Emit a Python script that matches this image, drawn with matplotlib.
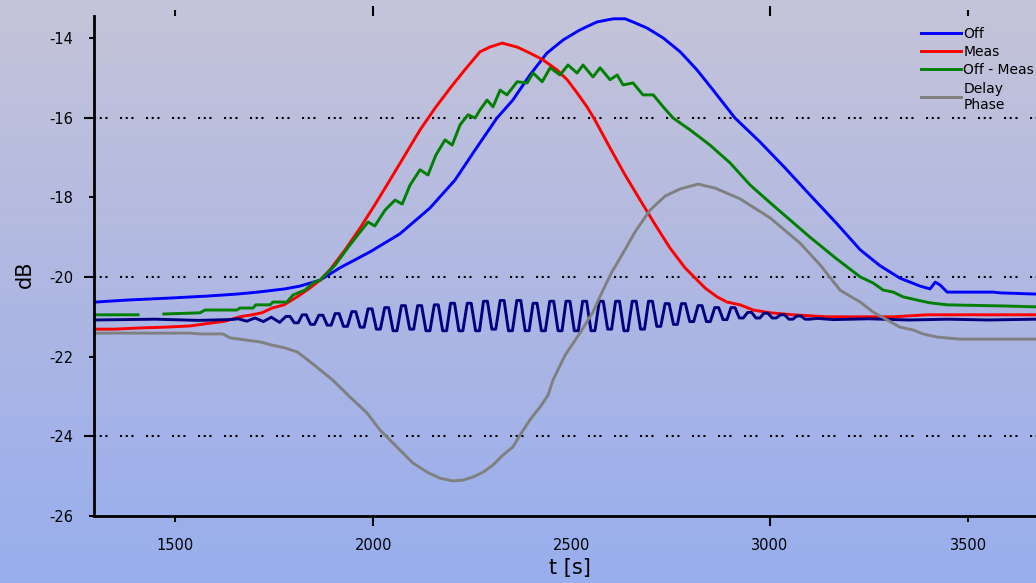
import numpy as np
import matplotlib
matplotlib.use("Agg")
import matplotlib.pyplot as plt
from matplotlib.colors import LinearSegmentedColormap

plt.rcParams['font.family'] = ['DejaVu Sans']
plt.rcParams['axes.unicode_minus'] = False

# measured traces, time in s, level in dB
blue_t = [1300, 1379, 1487, 1581, 1656, 1709, 1777, 1815, 1866, 1916,
          1992, 2067, 2143, 2206, 2257, 2312, 2352, 2395, 2438, 2479,
          2521, 2564, 2605, 2635, 2655, 2690, 2731, 2774, 2816, 2857,
          2912, 2975, 3038, 3101, 3165, 3228, 3278, 3328, 3379, 3404,
          3417, 3429, 3447, 3563, 3581, 3671]
blue_db = [-20.63, -20.58, -20.53, -20.48, -20.43, -20.38, -20.30, -20.23, -20.08, -19.77,
           -19.37, -18.92, -18.27, -17.57, -16.81, -16.01, -15.56, -14.93, -14.38, -14.05,
           -13.80, -13.60, -13.52, -13.52, -13.60, -13.75, -14.00, -14.35, -14.80, -15.31,
           -16.01, -16.61, -17.26, -17.94, -18.62, -19.32, -19.72, -20.03, -20.23, -20.30,
           -20.13, -20.20, -20.38, -20.38, -20.40, -20.43]

red_t = [1300, 1349, 1412, 1475, 1538, 1588, 1626, 1664, 1694, 1719,
         1745, 1775, 1808, 1840, 1866, 1891, 1929, 1967, 2004, 2042,
         2080, 2118, 2156, 2194, 2231, 2269, 2294, 2325, 2363, 2395,
         2428, 2463, 2489, 2514, 2539, 2559, 2597, 2635, 2673, 2711,
         2748, 2786, 2837, 2867, 2892, 2925, 2958, 3001, 3059, 3144,
         3311, 3397, 3671]
red_db = [-21.31, -21.31, -21.28, -21.26, -21.23, -21.16, -21.11, -21.00, -20.95, -20.90,
          -20.78, -20.70, -20.50, -20.28, -20.08, -19.82, -19.32, -18.77, -18.19, -17.57,
          -16.94, -16.31, -15.76, -15.26, -14.80, -14.35, -14.23, -14.13, -14.23, -14.38,
          -14.55, -14.80, -15.05, -15.38, -15.73, -16.06, -16.76, -17.44, -18.07, -18.69,
          -19.27, -19.77, -20.28, -20.50, -20.63, -20.70, -20.83, -20.90, -20.95, -21.00,
          -21.00, -20.95, -20.95]

green_t = [1300, 1407, 1440, 1472, 1563, 1576, 1656, 1664, 1697, 1704,
           1740, 1747, 1782, 1798, 1828, 1848, 1866, 1904, 1941, 1967,
           1987, 2004, 2030, 2055, 2073, 2093, 2118, 2138, 2158, 2181,
           2199, 2219, 2239, 2257, 2269, 2287, 2302, 2320, 2337, 2363,
           2388, 2403, 2426, 2446, 2471, 2491, 2514, 2529, 2554, 2572,
           2597, 2615, 2630, 2655, 2680, 2706, 2731, 2756, 2799, 2849,
           2900, 2950, 3001, 3051, 3101, 3165, 3228, 3260, 3286, 3311,
           3336, 3371, 3404, 3447, 3598, 3671]
green_db = [-20.95, -20.95, np.nan, -20.93, -20.90, -20.83, -20.83, -20.78, -20.78, -20.70,
            -20.70, -20.63, -20.63, -20.45, -20.33, -20.15, -20.08, -19.70, -19.20, -18.87,
            -18.62, -18.72, -18.32, -18.07, -18.17, -17.69, -17.31, -17.44, -16.94, -16.56,
            -16.69, -16.18, -15.93, -16.01, -15.81, -15.56, -15.73, -15.31, -15.43, -15.10,
            -15.13, -14.88, -15.10, -14.75, -14.93, -14.68, -14.88, -14.68, -14.98, -14.75,
            -15.05, -14.93, -15.18, -15.13, -15.43, -15.43, -15.73, -16.01, -16.31, -16.69,
            -17.14, -17.69, -18.14, -18.57, -19.00, -19.52, -20.00, -20.15, -20.33, -20.38,
            -20.50, -20.58, -20.65, -20.70, -20.73, -20.75]

gray_t = [1300, 1538, 1563, 1621, 1639, 1677, 1714, 1745, 1777, 1808,
          1828, 1861, 1898, 1941, 1984, 2017, 2042, 2067, 2100, 2136,
          2168, 2201, 2226, 2252, 2277, 2302, 2327, 2352, 2370, 2395,
          2421, 2441, 2453, 2484, 2521, 2554, 2577, 2602, 2627, 2660,
          2698, 2736, 2774, 2819, 2862, 2925, 3001, 3076, 3127, 3177,
          3202, 3228, 3260, 3296, 3328, 3361, 3386, 3422, 3480, 3671]
gray_db = [-21.41, -21.41, -21.43, -21.43, -21.53, -21.58, -21.63, -21.71, -21.78, -21.88,
           -22.03, -22.29, -22.59, -23.01, -23.41, -23.84, -24.09, -24.34, -24.67, -24.90,
           -25.05, -25.12, -25.10, -25.02, -24.90, -24.72, -24.47, -24.27, -23.97, -23.59,
           -23.26, -22.96, -22.59, -21.96, -21.41, -20.88, -20.38, -19.87, -19.45, -18.87,
           -18.32, -17.97, -17.79, -17.67, -17.77, -18.04, -18.52, -19.15, -19.70, -20.33,
           -20.48, -20.63, -20.88, -21.08, -21.26, -21.33, -21.43, -21.51, -21.56, -21.56]

# reference channel with the ripple (each crest/trough held for ~10 s)
navy_t = [1300, 1450, 1560, 1640, 1660, 1681, 1702, 1723, 1743, 1764,
          1780, 1790, 1801, 1811, 1821, 1831, 1842, 1852, 1863, 1873,
          1884, 1894, 1904, 1914, 1925, 1935, 1946, 1956, 1967, 1977,
          1987, 1997, 2008, 2018, 2029, 2039, 2050, 2060, 2071, 2081,
          2092, 2102, 2112, 2122, 2133, 2143, 2154, 2164, 2175, 2185,
          2195, 2205, 2216, 2226, 2237, 2247, 2258, 2268, 2278, 2288,
          2299, 2309, 2320, 2330, 2341, 2351, 2362, 2372, 2383, 2393,
          2403, 2413, 2424, 2434, 2445, 2455, 2466, 2476, 2486, 2496,
          2507, 2517, 2528, 2538, 2549, 2559, 2570, 2580, 2591, 2601,
          2611, 2621, 2632, 2642, 2653, 2663, 2674, 2684, 2694, 2704,
          2715, 2725, 2736, 2746, 2757, 2767, 2777, 2787, 2798, 2808,
          2819, 2829, 2840, 2850, 2861, 2871, 2882, 2892, 2902, 2912,
          2923, 2933, 2944, 2954, 2965, 2975, 2985, 2995, 3006, 3016,
          3027, 3037, 3048, 3058, 3068, 3078, 3089, 3099,
          3120, 3160, 3250, 3350, 3450, 3550, 3671]
navy_db = [-21.08, -21.06, -21.09, -21.07, -21.05, -21.11, -21.03, -21.12, -21.01, -21.14,
           -20.99, -20.99, -21.15, -21.15, -20.95, -20.95, -21.19, -21.19, -20.96, -20.96,
           -21.21, -21.21, -20.92, -20.92, -21.24, -21.24, -20.87, -20.87, -21.26, -21.26,
           -20.80, -20.80, -21.31, -21.31, -20.77, -20.77, -21.35, -21.35, -20.72, -20.72,
           -21.31, -21.31, -20.72, -20.72, -21.35, -21.35, -20.70, -20.70, -21.35, -21.35,
           -20.66, -20.66, -21.35, -21.35, -20.66, -20.66, -21.35, -21.35, -20.61, -20.61,
           -21.31, -21.31, -20.59, -20.59, -21.35, -21.35, -20.59, -20.59, -21.35, -21.35,
           -20.66, -20.66, -21.35, -21.35, -20.61, -20.61, -21.35, -21.35, -20.61, -20.61,
           -21.35, -21.35, -20.61, -20.61, -21.35, -21.35, -20.61, -20.61, -21.31, -21.31,
           -20.61, -20.61, -21.35, -21.35, -20.61, -20.61, -21.31, -21.31, -20.61, -20.61,
           -21.24, -21.24, -20.67, -20.67, -21.19, -21.19, -20.67, -20.67, -21.12, -21.12,
           -20.72, -20.72, -21.12, -21.12, -20.77, -20.77, -21.07, -21.07, -20.77, -20.77,
           -21.03, -21.03, -20.89, -20.89, -21.03, -21.03, -20.91, -20.91, -21.03, -21.03,
           -20.95, -20.95, -21.06, -21.06, -20.98, -20.98, -21.06, -21.06,
           -21.04, -21.07, -21.05, -21.08, -21.06, -21.08, -21.06]

legend_labels = ['Off', 'Meas', 'Off - Meas', 'Delay\nPhase']

x_major = [2000, 3000]
x_minor = [1500, 2500, 3500]
y_major = [-24, -20, -16]
y_minor = [-26, -22, -18, -14]

fig = plt.figure(figsize=(10.36, 5.83), dpi=100)

# gradient backdrop
bg = fig.add_axes([0, 0, 1, 1])
cmap = LinearSegmentedColormap.from_list(
    'bg', [(0.0, '#98aeee'), (0.48, '#aeb7e3'), (1.0, '#c5c4d9')])
bg.imshow(np.linspace(0, 1, 256).reshape(-1, 1), cmap=cmap, aspect='auto',
          origin='lower', extent=[0, 1, 0, 1])
bg.axis('off')

ax = fig.add_axes([94 / 1036, 1 - 516 / 583, 942 / 1036, 500 / 583])
ax.set_facecolor('none')

l_blue, = ax.plot(blue_t, blue_db, color='#0000ff', lw=2.1)
l_red, = ax.plot(red_t, red_db, color='#ff0000', lw=2.1)
ax.plot(navy_t, navy_db, color='#000080', lw=2.1, solid_joinstyle='round')
l_green, = ax.plot(green_t, green_db, color='#008000', lw=2.1)
l_gray, = ax.plot(gray_t, gray_db, color='#808080', lw=2.1)

ax.set_xlim(1296, 3671)
ax.set_ylim(-26, -13.45)

ax.set_xticks(x_major, [str(v) for v in x_major])
ax.set_xticks(x_minor, [str(v) for v in x_minor], minor=True)
ax.set_yticks(y_major, [str(v) for v in y_major])
ax.set_yticks(y_minor, [str(v) for v in y_minor], minor=True)

ax.tick_params(axis='x', which='major', direction='out', length=7.5, width=1.5,
               pad=8, top=True, labelsize=10.5)
ax.tick_params(axis='x', which='minor', direction='out', length=4, width=1.5,
               pad=11.5, top=True, labelsize=10.5)
ax.tick_params(axis='y', which='major', direction='out', length=7, width=1.5,
               pad=8, labelsize=10.5)
ax.tick_params(axis='y', which='minor', direction='out', length=3.5, width=1.5,
               pad=11.5, labelsize=10.5)
for tk in ax.xaxis.get_minor_ticks():
    if tk.get_loc() == 2500:
        tk.tick1line.set_visible(False)
        tk.tick2line.set_visible(False)

for side in ['top', 'right']:
    ax.spines[side].set_visible(False)
for side in ['left', 'bottom']:
    ax.spines[side].set_linewidth(2)

ax.yaxis.grid(True, which='major', color='black', lw=1.5,
              linestyle=(0, (1, 1.74, 1, 1.74, 1, 6)))

ax.set_xlabel('t [s]', fontsize=15)
ax.xaxis.set_label_coords(0.505, -0.084)
ax.set_ylabel('dB', fontsize=15)
ax.yaxis.set_label_coords(-0.0626, 0.484)

ax.legend([l_blue, l_red, l_green, l_gray], legend_labels,
          loc='upper left', bbox_to_anchor=(921 / 1036, 1 - 27 / 583),
          bbox_transform=fig.transFigure, frameon=False, fontsize=10,
          handlelength=2.9, handletextpad=0.15, labelspacing=0.3,
          borderpad=0, borderaxespad=0)

fig.savefig('out.png', dpi=100)
